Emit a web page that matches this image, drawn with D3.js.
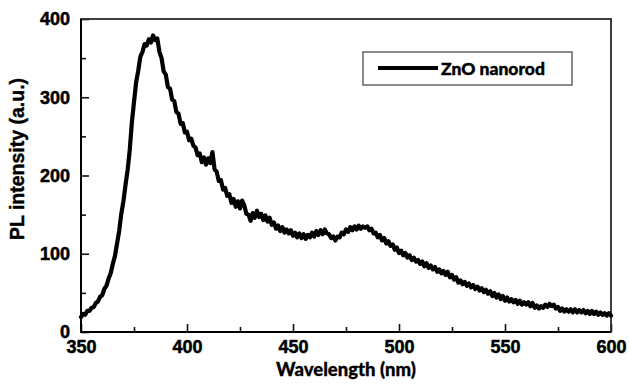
<!DOCTYPE html>
<html>
<head>
<meta charset="utf-8">
<script src="https://cdn.jsdelivr.net/npm/d3@7"></script>
<style>
  html, body { margin: 0; padding: 0; background: #fff; }
  svg { display: block; }
</style>
</head>
<body>
<svg id="chart" width="629" height="384"></svg>
<script>
// ---- data ----
const wavelengthStart = 350;   // nm, first sample
const wavelengthStep = 1;      // nm between samples
const intensity = [
  19, 23, 22, 27, 27, 31, 32, 37, 39, 45,
  47, 55, 59, 68, 75, 87, 97, 113, 129, 151,
  167, 188, 207, 233, 268, 294, 319, 334, 352, 358,
  368, 366, 374, 370, 379, 373, 375, 358, 350, 333,
  329, 313, 311, 297, 295, 281, 279, 266, 267, 255,
  256, 245, 247, 238, 236, 226, 228, 217, 223, 214,
  222, 216, 230, 208, 205, 193, 194, 182, 184, 174,
  176, 165, 170, 160, 167, 158, 168, 162, 151, 150,
  142, 152, 146, 155, 147, 151, 143, 149, 141, 146,
  137, 140, 132, 136, 129, 134, 127, 131, 126, 130,
  123, 127, 121, 126, 120, 125, 119, 124, 121, 127,
  122, 129, 124, 130, 125, 131, 126, 125, 120, 122,
  117, 122, 121, 127, 125, 131, 128, 134, 130, 135,
  131, 136, 132, 135, 133, 135, 130, 132, 126, 127,
  121, 124, 117, 120, 113, 116, 110, 112, 105, 108,
  101, 104, 98, 101, 95, 98, 92, 95, 90, 92,
  87, 90, 84, 88, 82, 85, 80, 83, 77, 80,
  75, 78, 73, 77, 70, 73, 67, 70, 63, 66,
  61, 64, 59, 62, 57, 60, 55, 58, 53, 56,
  51, 54, 49, 52, 46, 50, 44, 48, 42, 46,
  40, 44, 39, 42, 38, 41, 36, 40, 35, 38,
  35, 38, 33, 37, 31, 34, 30, 33, 31, 35,
  32, 36, 33, 35, 30, 32, 27, 30, 26, 29,
  26, 29, 25, 29, 25, 28, 25, 28, 24, 27,
  23, 27, 23, 26, 22, 25, 22, 24, 21, 24,
  21
];
const xMajorTicks = [350, 400, 450, 500, 550, 600];
const xMinorTicks = [375, 425, 475, 525, 575];
const yMajorTicks = [0, 100, 200, 300, 400];
const yMinorTicks = [50, 150, 250, 350];
const seriesName = "ZnO nanorod";
const xTitle = "Wavelength (nm)";
const yTitle = "PL intensity (a.u.)";

// ---- layout ----
const L = 81, R = 611, T = 19, B = 332;
const svg = d3.select("#chart");
const x = d3.scaleLinear().domain([350, 600]).range([L, R]);
const y = d3.scaleLinear().domain([0, 400]).range([B, T]);

const tickFont = "'Liberation Sans', Arial, sans-serif";
const titleFont = "Lato, 'Open Sans', sans-serif";

// minor ticks
svg.append("g").attr("transform", `translate(0,${B})`)
  .call(d3.axisBottom(x).tickValues(xMinorTicks).tickSize(-5).tickFormat(""))
  .call(g => g.select(".domain").remove());
svg.append("g").attr("transform", `translate(${L},0)`)
  .call(d3.axisLeft(y).tickValues(yMinorTicks).tickSize(-5).tickFormat(""))
  .call(g => g.select(".domain").remove());

// major ticks with labels
const xAxis = svg.append("g").attr("transform", `translate(0,${B})`)
  .call(d3.axisBottom(x).tickValues(xMajorTicks).tickSize(-8).tickPadding(8).tickFormat(d3.format("d")));
xAxis.select(".domain").remove();
const yAxis = svg.append("g").attr("transform", `translate(${L},0)`)
  .call(d3.axisLeft(y).tickValues(yMajorTicks).tickSize(-8).tickPadding(11).tickFormat(d3.format("d")));
yAxis.select(".domain").remove();

svg.selectAll(".tick line").attr("stroke", "#111").attr("stroke-width", 1.6);
svg.selectAll(".tick text")
  .attr("font-family", tickFont).attr("font-weight", "bold")
  .attr("font-size", 18).attr("fill", "#000")
  .attr("stroke", "#000").attr("stroke-width", 0.5);

// frame
svg.append("rect").attr("x", L).attr("y", T).attr("width", R - L).attr("height", B - T)
  .attr("fill", "none").attr("stroke", "#2a2a2a").attr("stroke-width", 1.8);
svg.append("path")
  .attr("d", `M${L},${T}V${B}H${R}`)
  .attr("fill", "none").attr("stroke", "#000").attr("stroke-width", 2);

// series line
const data = intensity.map((v, i) => ({ w: wavelengthStart + i * wavelengthStep, v }));
svg.append("path")
  .datum(data)
  .attr("fill", "none")
  .attr("stroke", "#000")
  .attr("stroke-width", 4.2)
  .attr("stroke-linejoin", "round")
  .attr("stroke-linecap", "round")
  .attr("d", d3.line().x(d => x(d.w)).y(d => y(d.v)));

// axis titles
svg.append("text")
  .attr("x", 346).attr("y", 376)
  .attr("text-anchor", "middle")
  .attr("font-family", titleFont).attr("font-weight", 900)
  .attr("font-size", 18.5).attr("fill", "#000")
  .attr("stroke", "#000").attr("stroke-width", 0.3)
  .text(xTitle);

svg.append("text")
  .attr("transform", "translate(24,159) rotate(-90)")
  .attr("text-anchor", "middle")
  .attr("font-family", tickFont).attr("font-weight", "bold")
  .attr("font-size", 19.5).attr("fill", "#000")
  .attr("stroke", "#000").attr("stroke-width", 0.4)
  .text(yTitle);

// legend
const lg = svg.append("g");
lg.append("rect").attr("x", 363).attr("y", 52).attr("width", 209).attr("height", 33)
  .attr("fill", "#fff").attr("stroke", "#666").attr("stroke-width", 1.5);
lg.append("line").attr("x1", 378).attr("x2", 438).attr("y1", 68).attr("y2", 68)
  .attr("stroke", "#000").attr("stroke-width", 4);
lg.append("text").attr("x", 441).attr("y", 75)
  .attr("font-family", titleFont).attr("font-weight", 900)
  .attr("font-size", 17.5).attr("fill", "#000")
  .attr("stroke", "#000").attr("stroke-width", 0.4)
  .text(seriesName);
</script>
</body>
</html>
